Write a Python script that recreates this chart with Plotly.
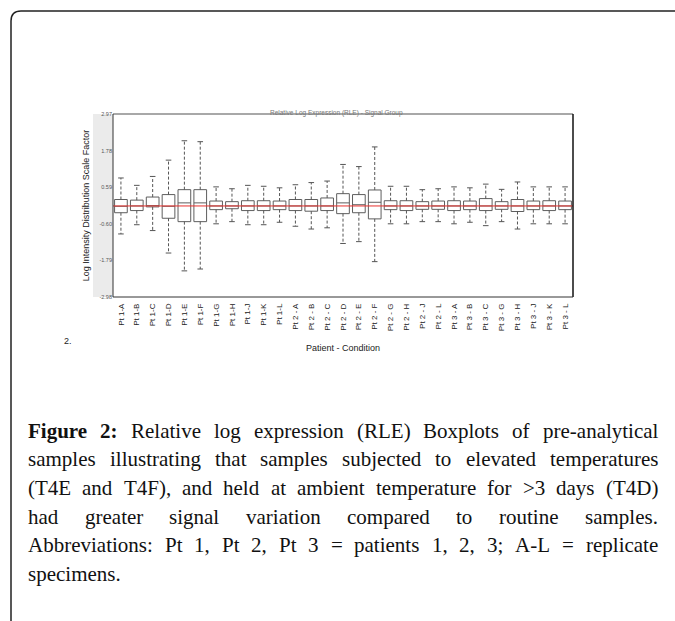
import plotly.graph_objects as go

# ---------------- data ----------------
labels = ["Pt 1-A", "Pt 1-B", "Pt 1-C", "Pt 1-D", "Pt 1-E", "Pt 1-F", "Pt 1-G", "Pt 1-H",
          "Pt 1-J", "Pt 1-K", "Pt 1-L",
          "Pt 2 - A", "Pt 2 - B", "Pt 2 - C", "Pt 2 - D", "Pt 2 - E", "Pt 2 - F", "Pt 2 - G",
          "Pt 2 - H", "Pt 2 - J", "Pt 2 - L",
          "Pt 3 - A", "Pt 3 - B", "Pt 3 - C", "Pt 3 - G", "Pt 3 - H", "Pt 3 - J", "Pt 3 - K",
          "Pt 3 - L"]
upper = [0.89, 0.65, 0.94, 1.47, 2.10, 2.07, 0.60, 0.54, 0.65, 0.62, 0.57,
         0.67, 0.74, 0.79, 1.33, 1.26, 1.90, 0.62, 0.62, 0.51, 0.54,
         0.60, 0.57, 0.69, 0.52, 0.76, 0.60, 0.60, 0.60]
q3 = [0.19, 0.17, 0.27, 0.35, 0.51, 0.51, 0.14, 0.12, 0.15, 0.15, 0.14,
      0.19, 0.19, 0.24, 0.38, 0.35, 0.50, 0.15, 0.15, 0.12, 0.14,
      0.15, 0.14, 0.22, 0.12, 0.19, 0.14, 0.15, 0.14]
median = [-0.03, -0.02, -0.01, -0.03, 0.08, 0.08, -0.02, -0.02, -0.02, -0.02, -0.02,
          -0.02, -0.02, -0.02, 0.08, 0.02, 0.10, -0.02, -0.02, -0.02, -0.02,
          -0.02, -0.02, -0.02, -0.02, -0.02, -0.02, -0.02, -0.02]
q1 = [-0.24, -0.17, -0.05, -0.42, -0.53, -0.53, -0.14, -0.11, -0.17, -0.17, -0.14,
      -0.17, -0.19, -0.17, -0.27, -0.24, -0.44, -0.14, -0.17, -0.13, -0.13,
      -0.17, -0.14, -0.17, -0.13, -0.20, -0.14, -0.17, -0.14]
lower = [-0.93, -0.63, -0.82, -1.55, -2.13, -2.07, -0.60, -0.53, -0.63, -0.63, -0.55,
         -0.68, -0.77, -0.73, -1.24, -1.18, -1.83, -0.60, -0.60, -0.53, -0.53,
         -0.60, -0.55, -0.66, -0.53, -0.77, -0.60, -0.60, -0.60]
ref_level = -0.02
ytick_vals = [-2.98, -1.79, -0.60, 0.59, 1.78, 2.97]
ytick_text = ["-2.98", "-1.79", "-0.60", "0.59", "1.78", "2.97"]

caption_lines = [
    "**Figure **2: Relative log expression (RLE) Boxplots of pre-analytical",
    "samples illustrating that samples subjected to elevated temperatures",
    "(T4E and T4F), and held at ambient temperature for >3 days (T4D)",
    "had greater signal variation compared to routine samples.",
    "Abbreviations: Pt 1, Pt 2, Pt 3 = patients 1, 2, 3; A-L = replicate",
    "specimens.",
]
caption_justify = [True, True, True, True, True, False]

# ---------------- geometry ----------------
W, H = 675, 621
L, R, T, B = 113, 573, 114, 297


def px(x):
    return (x - L) / (R - L)


def py(y):
    return (B - y) / (B - T)


# Times-compatible advance widths (1/1000 em) for Liberation Serif
_reg = {" ": 250, "(": 333, ")": 333, ",": 250, "-": 333, ".": 250, ":": 278, ";": 278,
        "=": 564, ">": 564, "A": 722, "B": 667, "C": 667, "D": 722, "E": 611, "F": 556,
        "G": 722, "H": 722, "I": 333, "J": 389, "K": 722, "L": 611, "M": 889, "N": 722,
        "O": 722, "P": 556, "Q": 722, "R": 667, "S": 556, "T": 611, "U": 722, "V": 722,
        "W": 944, "X": 722, "Y": 722, "Z": 611,
        "a": 444, "b": 500, "c": 444, "d": 500, "e": 444, "f": 333, "g": 500, "h": 500,
        "i": 278, "j": 278, "k": 500, "l": 278, "m": 778, "n": 500, "o": 500, "p": 500,
        "q": 500, "r": 333, "s": 389, "t": 278, "u": 500, "v": 500, "w": 722, "x": 500,
        "y": 500, "z": 444}
for d in "0123456789":
    _reg[d] = 500
_bold = dict(_reg)
_bold.update({"F": 611, "i": 278, "g": 500, "u": 556, "r": 444, "e": 444, ":": 333, "2": 500})

CAP_SIZE = 21
CAP_LEFT, CAP_RIGHT = 26, 656


def word_width(w, bold):
    tab = _bold if bold else _reg
    return sum(tab.get(ch, 500) for ch in w) * CAP_SIZE / 1000.0


fig = go.Figure()

# whiskers (dashed)
wx, wy = [], []
for c, a, b in zip(labels, q3, upper):
    wx += [c, c, None]
    wy += [a, b, None]
for c, a, b in zip(labels, q1, lower):
    wx += [c, c, None]
    wy += [a, b, None]
fig.add_trace(go.Scatter(x=wx, y=wy, mode="lines", line=dict(color="#555555", width=1, dash="3px,2px"),
                         hoverinfo="skip", showlegend=False))
# whisker caps
fig.add_trace(go.Scatter(x=labels + labels, y=upper + lower, mode="markers",
                         marker=dict(symbol="line-ew", size=4, line=dict(color="#555555", width=1)),
                         hoverinfo="skip", showlegend=False))
# boxes
fig.add_trace(go.Box(x=labels, q1=q1, median=median, q3=q3, lowerfence=q1, upperfence=q3,
                     width=0.8, whiskerwidth=0, fillcolor="white",
                     line=dict(color="#5e5e5e", width=1), showlegend=False, boxpoints=False))

shapes = []
shapes.append(dict(type="rect", xref="paper", yref="paper", x0=px(93), x1=0, y0=0, y1=1,
                   fillcolor="#ebebeb", line=dict(width=0), layer="below"))
shapes.append(dict(type="line", xref="paper", yref="y", x0=0, x1=1, y0=ref_level, y1=ref_level,
                   line=dict(color="#e8302c", width=1), layer="above"))
shapes.append(dict(type="line", xref="paper", yref="paper", x0=0, x1=1, y0=1, y1=1,
                   line=dict(color="#a8a8a8", width=2)))
shapes.append(dict(type="line", xref="paper", yref="paper", x0=1, x1=1, y0=0, y1=1,
                   line=dict(color="#111111", width=1.5)))
shapes.append(dict(type="line", xref="paper", yref="paper", x0=0, x1=0, y0=0, y1=1,
                   line=dict(color="#333333", width=1)))
shapes.append(dict(type="line", xref="paper", yref="paper", x0=0, x1=1, y0=0, y1=0,
                   line=dict(color="#333333", width=1)))
r = 10
path = (f"M {px(11)} {py(700)} L {px(11)} {py(11 + r)} "
        f"Q {px(11)} {py(11)} {px(11 + r)} {py(11)} L {px(700)} {py(11)}")
shapes.append(dict(type="path", xref="paper", yref="paper", path=path,
                   line=dict(color="#222222", width=1.5)))

annotations = []
annotations.append(dict(xref="paper", yref="paper", x=px(336), y=py(113),
                        text="Relative Log Expression (RLE) - Signal Group",
                        showarrow=False, font=dict(family="Liberation Sans", size=6.5, color="#777777"),
                        xanchor="center", yanchor="middle"))
annotations.append(dict(xref="paper", yref="paper", x=px(62), y=py(341), text="2.",
                        showarrow=False, font=dict(family="Liberation Sans", size=9, color="#222222"),
                        xanchor="left", yanchor="middle"))

# caption, justified word by word
line_y = [431, 459, 488, 517, 545, 574]
for i, txt in enumerate(caption_lines):
    words = []
    for tok in txt.split(" "):
        if tok.startswith("**"):
            words.append((tok.replace("*", ""), True))
        else:
            words.append((tok, False))
    fixed = []
    for w, bld in words:
        if w == "2:" and i == 0:
            fixed.append((w, True))
        else:
            fixed.append((w, bld))
    words = [(w, b) for w, b in fixed if w]
    widths = [word_width(w, b) for w, b in words]
    if caption_justify[i] and len(words) > 1:
        gap = (CAP_RIGHT - CAP_LEFT - sum(widths)) / (len(words) - 1)
    else:
        gap = _reg[" "] * CAP_SIZE / 1000.0
    x = CAP_LEFT
    for (w, bld), ww in zip(words, widths):
        annotations.append(dict(xref="paper", yref="paper", x=px(x), y=py(line_y[i]),
                                text=f"<b>{w}</b>" if bld else w, showarrow=False,
                                font=dict(family="Liberation Serif", size=CAP_SIZE, color="#111111"),
                                xanchor="left", yanchor="middle"))
        x += ww + gap

fig.update_layout(
    width=W, height=H,
    margin=dict(l=L, r=W - R, t=T, b=H - B, pad=0),
    paper_bgcolor="white", plot_bgcolor="white",
    shapes=shapes, annotations=annotations,
    xaxis=dict(type="category", categoryorder="array", categoryarray=labels,
               range=[-0.5, len(labels) - 0.5], tickangle=-90, showgrid=False, zeroline=False,
               showline=False, ticks="", ticklabelstandoff=4,
               tickfont=dict(family="Liberation Sans", size=8, color="#222222"),
               title=dict(text="Patient - Condition", standoff=14,
                          font=dict(family="Liberation Sans", size=9, color="#222222"))),
    yaxis=dict(range=[-2.98, 2.97], tickvals=ytick_vals, ticktext=ytick_text, showgrid=False,
               zeroline=False, showline=False, ticks="",
               tickfont=dict(family="Liberation Sans", size=5.5, color="#555555"),
               title=dict(text="Log Intensity Distribution Scale Factor", standoff=8,
                          font=dict(family="Liberation Sans", size=9, color="#222222"))),
)

fig.write_html("out.html")
